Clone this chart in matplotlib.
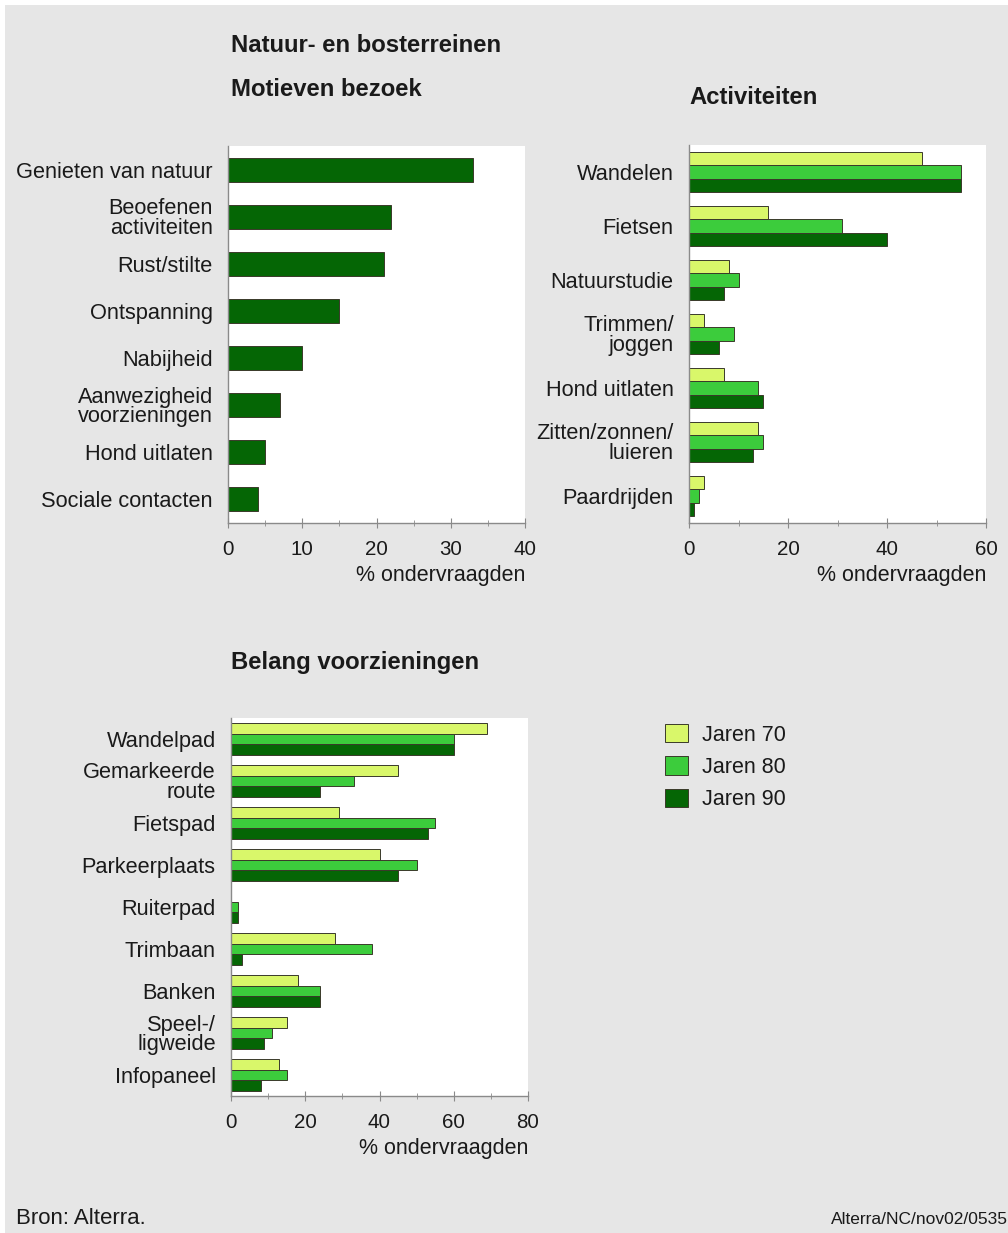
import matplotlib.pyplot as plt
import matplotlib.patches as mpatches
import numpy as np

plt.rcParams['font.family'] = ['Liberation Sans', 'DejaVu Sans']

# Motieven bezoek
motief_labels = ['Genieten van natuur', 'Beoefenen\nactiviteiten', 'Rust/stilte', 'Ontspanning',
                 'Nabijheid', 'Aanwezigheid\nvoorzieningen', 'Hond uitlaten', 'Sociale contacten']
motief_vals = [33, 22, 21, 15, 10, 7, 5, 4]

# Activiteiten
act_labels = ['Wandelen', 'Fietsen', 'Natuurstudie', 'Trimmen/\njoggen', 'Hond uitlaten',
              'Zitten/zonnen/\nluieren', 'Paardrijden']
act_70 = [47, 16, 8, 3, 7, 14, 3]
act_80 = [55, 31, 10, 9, 14, 15, 2]
act_90 = [55, 40, 7, 6, 15, 13, 1]

# Belang voorzieningen
voorz_labels = ['Wandelpad', 'Gemarkeerde\nroute', 'Fietspad', 'Parkeerplaats', 'Ruiterpad',
                'Trimbaan', 'Banken', 'Speel-/\nligweide', 'Infopaneel']
voorz_70 = [69, 45, 29, 40, 0, 28, 18, 15, 13]
voorz_80 = [60, 33, 55, 50, 2, 38, 24, 11, 15]
voorz_90 = [60, 24, 53, 45, 2, 3, 24, 9, 8]

series_names = ['Jaren 70', 'Jaren 80', 'Jaren 90']
colors = ['#d9f76a', '#3ccc3c', '#056605']
edge = '#3a3a2a'
bg = '#e6e6e6'
txt = '#1a1a1a'

W, H = 1008, 1233
fig = plt.figure(figsize=(W / 100, H / 100), dpi=100)
fig.patch.set_facecolor('white')
fig.patches.append(mpatches.Rectangle((5 / W, 0), 1, 1 - 5 / H, transform=fig.transFigure,
                                      facecolor=bg, edgecolor='none', zorder=-10))


def box(left, top, right, bottom):
    return [left / W, 1 - bottom / H, (right - left) / W, (bottom - top) / H]


def style(ax, xmax, major, labels):
    ax.set_facecolor('white')
    for s in ['top', 'right']:
        ax.spines[s].set_visible(False)
    for s in ['left', 'bottom']:
        ax.spines[s].set_color('#8a8a8a')
        ax.spines[s].set_linewidth(1.0)
    ax.set_xlim(0, xmax)
    ax.set_ylim(len(labels) - 0.5, -0.5)
    ax.set_xticks(np.arange(0, xmax + 1, major))
    ax.set_xticks(np.arange(major / 2, xmax, major), minor=True)
    ax.set_yticks(range(len(labels)))
    ax.set_yticklabels(labels, fontsize=15.7, color=txt, linespacing=0.9)
    ax.tick_params(axis='y', length=0, pad=11)
    ax.tick_params(axis='x', which='major', length=7, direction='inout', color='#8a8a8a',
                   labelsize=14.8, labelcolor=txt, pad=9)
    ax.tick_params(axis='x', which='minor', length=5, direction='inout', color='#8a8a8a')
    ax.set_xlabel('% ondervraagden', fontsize=15.5, color=txt, loc='right', labelpad=4)


def grouped(ax, series):
    y = np.arange(len(series[0]))
    h = 0.25
    bars = []
    for k, vals in enumerate(series):
        b = ax.barh(y + (k - 1) * h, vals, height=h, color=colors[k], edgecolor=edge,
                    linewidth=0.7)
        bars.append(b)
    return bars


# panel 1
ax1 = fig.add_axes(box(228, 146, 525, 523))
ax1.barh(range(len(motief_vals)), motief_vals, height=0.51, color=colors[2], edgecolor=edge,
         linewidth=0.7)
style(ax1, 40, 10, motief_labels)

# panel 2
ax2 = fig.add_axes(box(689, 145, 986, 523))
handles = grouped(ax2, [act_70, act_80, act_90])
style(ax2, 60, 20, act_labels)

# panel 3
ax3 = fig.add_axes(box(231, 718, 528, 1096))
grouped(ax3, [voorz_70, voorz_80, voorz_90])
style(ax3, 80, 20, voorz_labels)

# titles
tfs = 17.2
fig.text(231 / W, 1 - 46 / H, 'Natuur- en bosterreinen', fontsize=tfs, weight='bold',
         color=txt, va='center')
fig.text(231 / W, 1 - 90 / H, 'Motieven bezoek', fontsize=tfs, weight='bold',
         color=txt, va='center')
fig.text(689 / W, 1 - 98 / H, 'Activiteiten', fontsize=tfs, weight='bold',
         color=txt, va='center')
fig.text(231 / W, 1 - 663 / H, 'Belang voorzieningen', fontsize=tfs, weight='bold',
         color=txt, va='center')

# legend
fig.legend(handles, series_names, loc='upper left', bbox_to_anchor=(665 / W, 1 - 724 / H),
           frameon=False, fontsize=15.5, handlelength=1.07, handleheight=0.93,
           labelspacing=0.5, handletextpad=0.65, borderpad=0, borderaxespad=0,
           labelcolor=txt)

# footer
fig.text(16 / W, 1 - 1218 / H, 'Bron: Alterra.', fontsize=16, color=txt, va='center')
fig.text(1008 / W, 1 - 1219 / H, 'Alterra/NC/nov02/0535', fontsize=12.5, color=txt,
         va='center', ha='right')

fig.savefig('out.png', dpi=100, facecolor=fig.get_facecolor())
